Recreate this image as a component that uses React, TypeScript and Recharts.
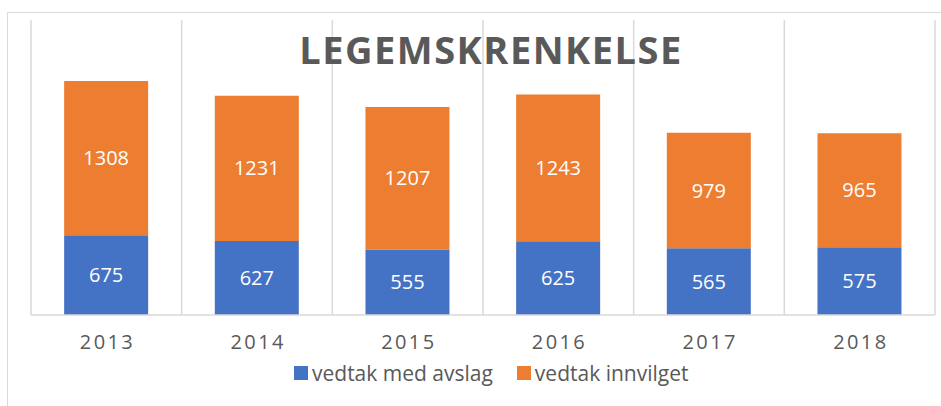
import React from "react";
import { BarChart, Bar, XAxis, YAxis, CartesianGrid, LabelList } from "recharts";

const years = ["2013", "2014", "2015", "2016", "2017", "2018"];
const avslag = [675, 627, 555, 625, 565, 575];
const innvilget = [1308, 1231, 1207, 1243, 979, 965];
const seriesNames = ["vedtak med avslag", "vedtak innvilget"];
const title = "LEGEMSKRENKELSE";

const data = years.map((y, i) => ({ year: y, avslag: avslag[i], innvilget: innvilget[i] }));

const FONT = "'Open Sans', sans-serif";
const GREY = "#595959";
const BLUE = "#4472c4";
const ORANGE = "#ed7d31";
const GRID = "#d9d9d9";

const Tick = (props: any) => {
  const { x, y, payload } = props;
  return (
    <text x={x + 1.2} y={y} dy={26} textAnchor="middle" fill={GREY} fontSize={20} fontFamily={FONT} letterSpacing={2.4}>
      {payload.value}
    </text>
  );
};

const LegendBox = () => {
  const colors = [BLUE, ORANGE];
  return (
    <div
      style={{
        position: "absolute",
        top: 358,
        left: 294,
        display: "flex",
        alignItems: "center",
        fontFamily: FONT,
        fontSize: 21,
        color: GREY,
        lineHeight: "30px",
      }}
    >
      {seriesNames.map((n, i) => (
        <div key={n} style={{ display: "flex", alignItems: "center", marginRight: i === 0 ? 24 : 0 }}>
          <span style={{ display: "inline-block", width: 14, height: 14, background: colors[i], marginRight: 4 }} />
          <span>{n}</span>
        </div>
      ))}
    </div>
  );
};

export default function App() {
  const n = years.length;
  return (
    <div style={{ position: "absolute", left: 0, top: 0, width: 941, height: 406, background: "#fff", overflow: "hidden" }}>
      <div style={{ position: "absolute", left: 7, top: 12, width: 960, height: 420, border: `1.5px solid ${GRID}`, boxSizing: "border-box" }} />
      <div style={{ position: "absolute", left: 0, top: 0 }}>
        <BarChart width={941} height={406} data={data} margin={{ top: 20, right: 6, bottom: 0, left: 31 }} barCategoryGap="22%">
          <CartesianGrid
            horizontal={false}
            stroke={GRID}
            strokeWidth={1.5}
            verticalCoordinatesGenerator={({ offset }: any) =>
              Array.from({ length: n + 1 }, (_, i) => offset.left + (i * offset.width) / n)
            }
          />
          <XAxis dataKey="year" height={91} axisLine={{ stroke: GRID, strokeWidth: 1.5 }} tickLine={false} tick={<Tick />} interval={0} />
          <YAxis hide domain={[0, 2500]} />
          <Bar dataKey="avslag" stackId="a" fill={BLUE} isAnimationActive={false} name={seriesNames[0]}>
            <LabelList dataKey="avslag" position="center" fill="#fff" fontSize={20} fontFamily={FONT} />
          </Bar>
          <Bar dataKey="innvilget" stackId="a" fill={ORANGE} isAnimationActive={false} name={seriesNames[1]}>
            <LabelList dataKey="innvilget" position="center" fill="#fff" fontSize={20} fontFamily={FONT} />
          </Bar>
        </BarChart>
      </div>
      <LegendBox />
      <div
        style={{
          position: "absolute",
          left: 0,
          width: 941,
          top: 24,
          textAlign: "center",
          paddingLeft: 41,
          boxSizing: "border-box",
          fontFamily: FONT,
          fontWeight: 700,
          fontSize: 38,
          letterSpacing: 1.5,
          color: GREY,
          lineHeight: "50px",
          pointerEvents: "none",
        }}
      >
        {title}
      </div>
    </div>
  );
}
